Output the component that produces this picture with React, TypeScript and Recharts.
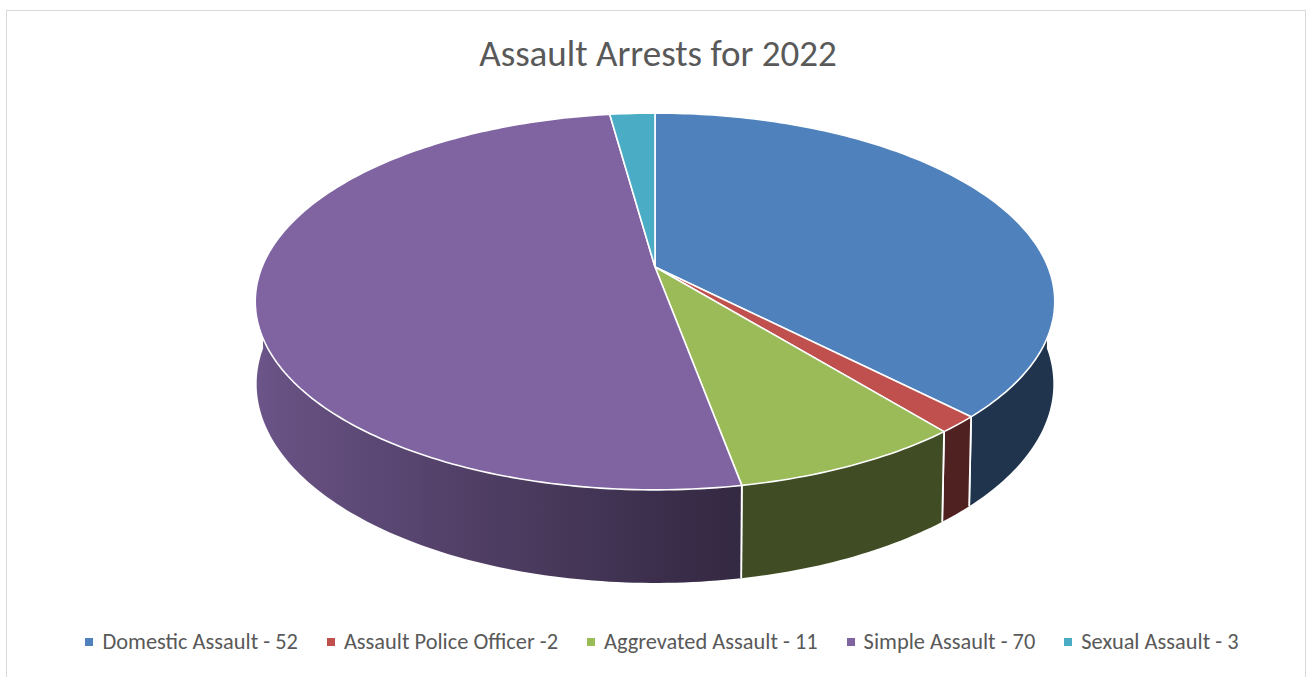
import React from "react";
import { PieChart, Pie, Legend } from "recharts";

const categories = [
  "Domestic Assault",
  "Assault Police Officer",
  "Aggrevated Assault",
  "Simple Assault",
  "Sexual Assault",
];
const arrests = [52, 2, 11, 70, 3];
const legendLabels = [
  "Domestic Assault - 52",
  "Assault Police Officer -2",
  "Aggrevated Assault - 11",
  "Simple Assault - 70",
  "Sexual Assault - 3",
];
const colors = ["#4F81BD", "#C0504D", "#9BBB59", "#8064A2", "#4BACC6"];

const data = categories.map((name, i) => ({ name, value: arrests[i] }));

const FONT = "Calibri, Carlito, Lato, 'Open Sans', sans-serif";

// fake 3d: tilted disc seen in perspective
const RAD = Math.PI / 180;
const TILT = 27.6 * RAD;
const DIST = 4.84;
const DEPTH = 0.239;
const BOTTOM_WIDEN = 1.02;

function project(cx: number, cy: number, r: number, deg: number, h: number) {
  const u = Math.cos(deg * RAD);
  const v = Math.sin(deg * RAD);
  const z = DIST + v * Math.cos(TILT) + h * Math.sin(TILT);
  const widen = h > 0 ? BOTTOM_WIDEN : 1;
  return {
    x: cx + (r * DIST * u * widen) / z,
    y: cy - (r * DIST * (v * Math.sin(TILT) - h * Math.cos(TILT))) / z,
  };
}

function shade(hex: string, f: number) {
  const n = parseInt(hex.slice(1), 16);
  const r = Math.round(((n >> 16) & 255) * f);
  const g = Math.round(((n >> 8) & 255) * f);
  const b = Math.round((n & 255) * f);
  return `rgb(${r},${g},${b})`;
}

function light(deg: number) {
  return 0.41 + 0.43 * Math.max(0, -Math.cos((deg - 8) * RAD));
}

function arcPoints(cx: number, cy: number, r: number, a0: number, a1: number, h: number) {
  const n = Math.max(2, Math.ceil(Math.abs(a1 - a0)));
  const pts = [];
  for (let i = 0; i <= n; i++) {
    pts.push(project(cx, cy, r, a0 + ((a1 - a0) * i) / n, h));
  }
  return pts;
}

function WallFace(props: any) {
  const { cx, cy, outerRadius, startAngle, endAngle, index } = props;
  const lo = Math.max(Math.min(startAngle, endAngle), -180);
  const hi = Math.min(Math.max(startAngle, endAngle), 0);
  if (hi <= lo) return null;
  const color = colors[index];
  const top = arcPoints(cx, cy, outerRadius, lo, hi, 0);
  const bottom = arcPoints(cx, cy, outerRadius, hi, lo, DEPTH);
  const d = `M${[...top, ...bottom].map((q) => `${q.x},${q.y}`).join("L")}Z`;
  // horizontal gradient following the lighting along the wall
  const xs = top.map((q) => q.x);
  const x0 = Math.min(...xs) - 12;
  const x1 = Math.max(...xs) + 12;
  const stops = [];
  const n = 12;
  for (let i = 0; i <= n; i++) {
    const a = lo + ((hi - lo) * i) / n;
    const p = project(cx, cy, outerRadius, a, 0);
    stops.push({ off: (p.x - x0) / (x1 - x0), c: shade(color, light(a)) });
  }
  stops.sort((s, t) => s.off - t.off);
  const id = `wall-${index}`;
  const edges = [];
  if (lo > -180) edges.push(lo);
  if (hi < 0) edges.push(hi);
  return (
    <g>
      <defs>
        <linearGradient id={id} gradientUnits="userSpaceOnUse" x1={x0} y1={0} x2={x1} y2={0}>
          {stops.map((s, i) => (
            <stop key={i} offset={Math.min(1, Math.max(0, s.off))} stopColor={s.c} />
          ))}
        </linearGradient>
      </defs>
      <path d={d} fill={`url(#${id})`} stroke="none" />
      {edges.map((a) => {
        const t = project(cx, cy, outerRadius, a, 0);
        const b = project(cx, cy, outerRadius, a, DEPTH);
        return <line key={a} x1={t.x} y1={t.y} x2={b.x} y2={b.y} stroke="#fff" strokeWidth={1.8} />;
      })}
    </g>
  );
}

function TopFace(props: any) {
  const { cx, cy, outerRadius, startAngle, endAngle, index } = props;
  const pts = arcPoints(cx, cy, outerRadius, startAngle, endAngle, 0);
  const d = `M${cx},${cy}L${pts.map((q) => `${q.x},${q.y}`).join("L")}Z`;
  return <path d={d} fill={colors[index]} stroke="#fff" strokeWidth={1.6} strokeLinejoin="round" />;
}

function LegendRow() {
  return (
    <div
      style={{
        display: "flex",
        justifyContent: "center",
        alignItems: "center",
        fontFamily: FONT,
        fontSize: 22.4,
        color: "#595959",
        paddingLeft: 16,
      }}
    >
      {legendLabels.map((label, i) => (
        <div key={label} style={{ display: "flex", alignItems: "center", marginRight: i < legendLabels.length - 1 ? 29 : 0 }}>
          <span style={{ width: 8, height: 8, background: colors[i], marginRight: 9, display: "inline-block" }} />
          <span>{label}</span>
        </div>
      ))}
    </div>
  );
}

export default function App() {
  return (
    <div style={{ position: "absolute", left: 0, top: 0, width: 1308, height: 677, background: "#fff", overflow: "hidden" }}>
      <div
        style={{
          position: "absolute",
          left: 6,
          top: 10,
          width: 1298,
          height: 700,
          border: "1.5px solid #d9d9d9",
        }}
      />
      <div
        style={{
          position: "absolute",
          left: 0,
          top: 32,
          width: 1308,
          textAlign: "center",
          fontFamily: FONT,
          fontSize: 37,
          color: "#595959",
          lineHeight: "44px",
          paddingLeft: 4,
        }}
      >
        Assault Arrests for 2022
      </div>
      <PieChart width={1308} height={677} margin={{ top: 0, right: 0, bottom: 0, left: 0 }}>
        <Pie
          data={data}
          dataKey="value"
          nameKey="name"
          cx={655}
          cy={267}
          outerRadius={393}
          startAngle={90}
          endAngle={-270}
          fill="none"
          stroke="none"
          labelLine={false}
          label={WallFace}
          isAnimationActive={false}
        />
        <Pie
          data={data}
          dataKey="value"
          nameKey="name"
          cx={655}
          cy={267}
          outerRadius={393}
          startAngle={90}
          endAngle={-270}
          fill="none"
          stroke="none"
          labelLine={false}
          label={TopFace}
          isAnimationActive={false}
        />
        <Legend
          content={() => <LegendRow />}
          wrapperStyle={{ left: 0, top: 628, width: 1308, bottom: "auto" }}
        />
      </PieChart>
    </div>
  );
}
